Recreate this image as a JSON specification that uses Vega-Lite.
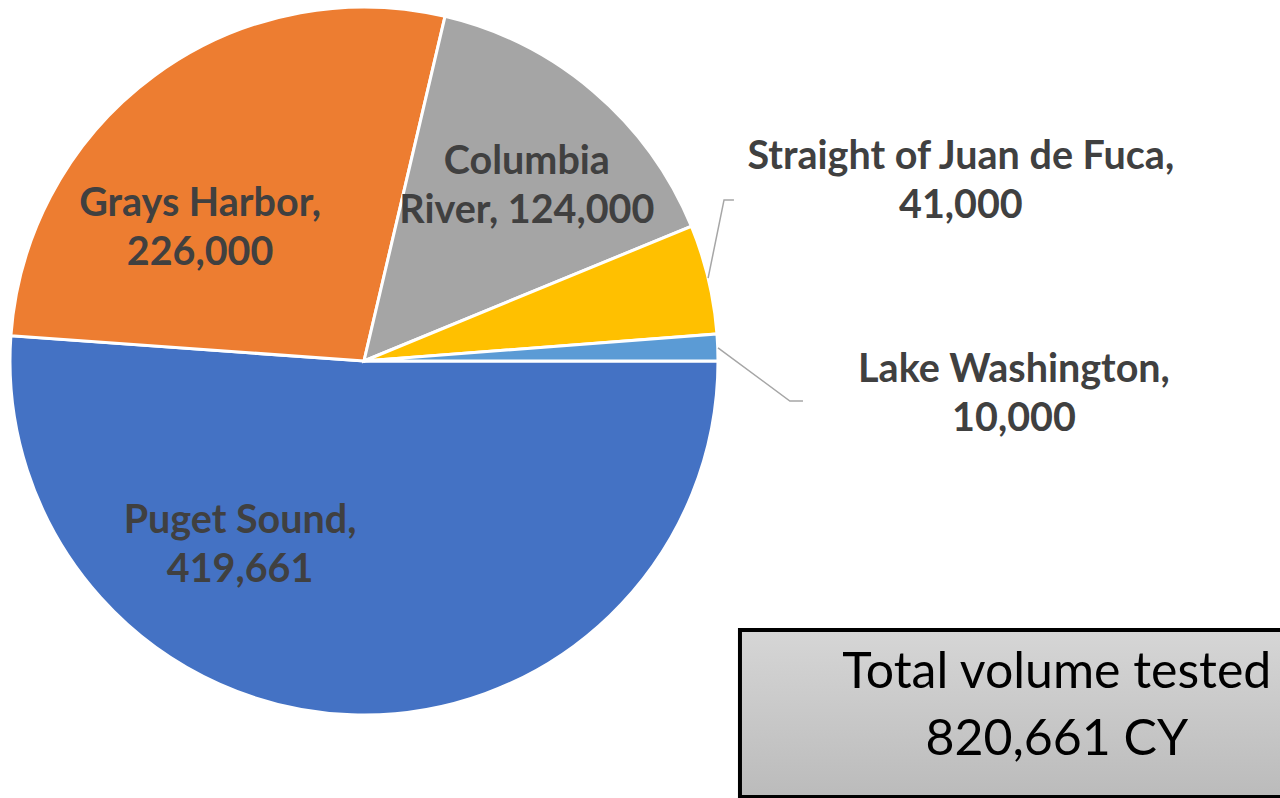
{
  "$schema": "https://vega.github.io/schema/vega-lite/v6.json",
  "width": 728,
  "height": 722,
  "autosize": {"type": "none"},
  "padding": {"left": 0, "top": 0, "right": 552, "bottom": 76},
  "background": "white",
  "config": {"view": {"stroke": null}, "text": {"lineBreak": "\n"}},
  "datasets": {
    "slices": [
      {"region": "Puget Sound", "volume": 419661, "ord": 1},
      {"region": "Grays Harbor", "volume": 226000, "ord": 2},
      {"region": "Columbia River", "volume": 124000, "ord": 3},
      {"region": "Straight of Juan de Fuca", "volume": 41000, "ord": 4},
      {"region": "Lake Washington", "volume": 10000, "ord": 5}
    ],
    "labels": [
      {"label": "Grays Harbor,\n226,000", "lx": -0.463, "ly": 0.373},
      {"label": "Columbia\nRiver, 124,000", "lx": 0.460, "ly": 0.492},
      {"label": "Straight of Juan de Fuca,\n41,000", "lx": 1.686, "ly": 0.508},
      {"label": "Lake Washington,\n10,000", "lx": 1.836, "ly": -0.096},
      {"label": "Puget Sound,\n419,661", "lx": -0.350, "ly": -0.520}
    ],
    "leaders": [
      {"leader": "Straight", "seq": 1, "lx": 0.972, "ly": 0.234},
      {"leader": "Straight", "seq": 2, "lx": 1.017, "ly": 0.455},
      {"leader": "Straight", "seq": 3, "lx": 1.045, "ly": 0.455},
      {"leader": "Lake", "seq": 1, "lx": 1.000, "ly": 0.037},
      {"leader": "Lake", "seq": 2, "lx": 1.203, "ly": -0.113},
      {"leader": "Lake", "seq": 3, "lx": 1.240, "ly": -0.113}
    ],
    "box": [
      {"x1": 1.062, "x2": 2.600, "y1": -0.760, "y2": -1.232, "tx": 1.957, "ty": -0.975, "label": "Total volume tested\n820,661 CY"}
    ]
  },
  "layer": [
    {
      "data": {"name": "slices"},
      "mark": {"type": "arc", "outerRadius": 354, "stroke": "white", "strokeWidth": 3},
      "encoding": {
        "theta": {"field": "volume", "type": "quantitative", "stack": true, "scale": {"range": [1.5708, 7.854]}},
        "order": {"field": "ord", "type": "quantitative"},
        "color": {
          "field": "region", "type": "nominal", "legend": null,
          "scale": {
            "domain": ["Puget Sound", "Grays Harbor", "Columbia River", "Straight of Juan de Fuca", "Lake Washington"],
            "range": ["#4472C4", "#ED7D31", "#A5A5A5", "#FFC000", "#5B9BD5"]
          }
        }
      }
    },
    {
      "data": {"name": "leaders"},
      "mark": {"type": "line", "color": "#A6A6A6", "strokeWidth": 1.5},
      "encoding": {
        "x": {"field": "lx", "type": "quantitative", "axis": null, "scale": {"domain": [-1.0282, 1.0282], "nice": false, "zero": false}},
        "y": {"field": "ly", "type": "quantitative", "axis": null, "scale": {"domain": [-1.0198, 1.0198], "nice": false, "zero": false}},
        "detail": {"field": "leader"},
        "order": {"field": "seq", "type": "quantitative"}
      }
    },
    {
      "data": {"name": "labels"},
      "mark": {"type": "text", "font": "Lato", "fontWeight": "bold", "fontSize": 39.5, "lineHeight": 49, "dy": -24.5, "color": "#404040", "align": "center", "baseline": "middle"},
      "encoding": {
        "x": {"field": "lx", "type": "quantitative"},
        "y": {"field": "ly", "type": "quantitative"},
        "text": {"field": "label"}
      }
    },
    {
      "data": {"name": "box"},
      "mark": {
        "type": "rect", "stroke": "#000000", "strokeWidth": 4,
        "fill": {"gradient": "linear", "x1": 0, "y1": 0, "x2": 0, "y2": 1, "stops": [{"offset": 0, "color": "#D6D6D6"}, {"offset": 1, "color": "#BBBBBB"}]}
      },
      "encoding": {
        "x": {"field": "x1", "type": "quantitative"},
        "x2": {"field": "x2"},
        "y": {"field": "y1", "type": "quantitative"},
        "y2": {"field": "y2"}
      }
    },
    {
      "data": {"name": "box"},
      "mark": {"type": "text", "font": "Lato", "fontSize": 50, "lineHeight": 67, "dy": -33.5, "color": "#000000", "align": "center", "baseline": "middle"},
      "encoding": {
        "x": {"field": "tx", "type": "quantitative"},
        "y": {"field": "ty", "type": "quantitative"},
        "text": {"field": "label"}
      }
    }
  ]
}
